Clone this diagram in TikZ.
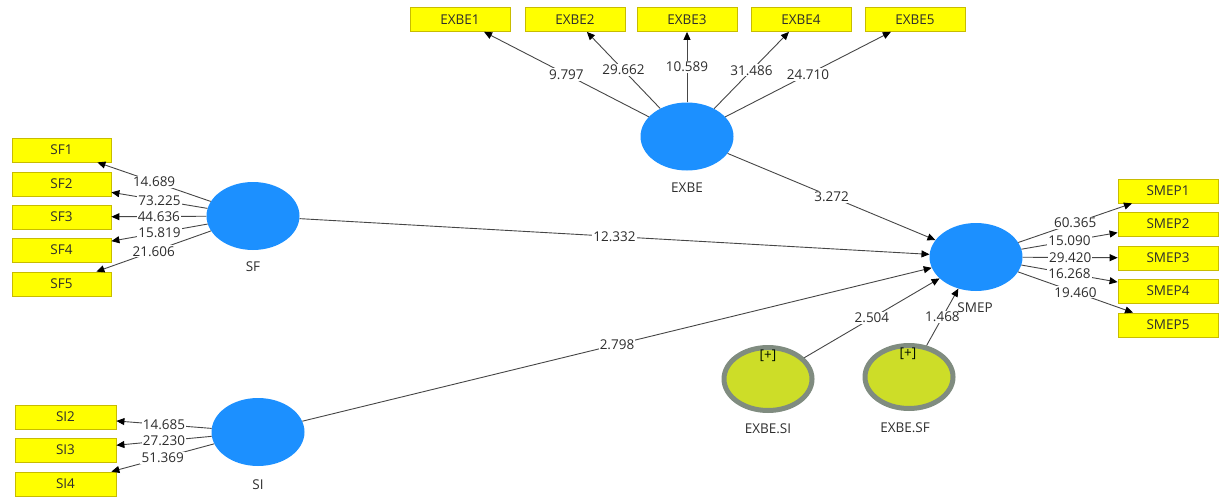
\documentclass[tikz,border=0pt]{standalone}
\usepackage{fontspec}
\setmainfont{Open Sans}
\usetikzlibrary{shapes.geometric,arrows.meta}
\definecolor{lvblue}{RGB}{28,144,255}
\definecolor{indfill}{RGB}{255,255,0}
\definecolor{indborder}{RGB}{200,188,0}
\definecolor{modfill}{RGB}{205,221,40}
\definecolor{modring}{RGB}{128,140,128}
\definecolor{lncol}{RGB}{70,70,70}
\definecolor{txtcol}{RGB}{45,45,45}
\begin{document}
\begin{tikzpicture}[x=1pt,y=-1pt,
  font=\fontsize{13.5}{15}\selectfont,
  lv/.style={ellipse, fill=lvblue, minimum width=93pt, minimum height=68pt, inner sep=0pt},
  indbox/.style={rectangle, fill=indfill, draw=indborder, line width=0.8pt, minimum width=100pt, minimum height=24pt, inner sep=0pt, text=txtcol},
  modnode/.style={ellipse, fill=modfill, draw=modring, line width=5pt, minimum width=88pt, minimum height=63pt, inner sep=0pt},
  lnk/.style={draw=lncol, line width=0.9pt, -{Triangle[length=8pt,width=7pt,color=black]}},
  wt/.style={fill=white, inner sep=1.2pt, text=txtcol},
  nm/.style={text=txtcol, inner sep=1pt},
  plus/.style={text=black!85!green!40!black, inner sep=0pt}]
\useasboundingbox (0,0) rectangle (1222,500);

% latent variables
\node[lv] (EXBE) at (687,136.5) {};
\node[lv] (SF) at (253,216) {};
\node[lv] (SI) at (258,432) {};
\node[lv] (SMEP) at (976,257) {};
\node[modnode] (EXBESI) at (768,379) {};
\node[modnode] (EXBESF) at (909,377) {};

% indicators
\foreach \i/\x in {1/460,2/575,3/687,4/801,5/915}
  \node[indbox] (EXBE\i) at (\x,19.5) {EXBE\i};
\foreach \i/\y in {1/150,2/184,3/217,4/250,5/284}
  \node[indbox, minimum width=99pt] (SF\i) at (61.5,\y) {SF\i};
\foreach \i/\y in {2/417,3/450,4/484}
  \node[indbox, minimum width=101pt] (SI\i) at (65.5,\y) {SI\i};
\foreach \i/\y in {1/191,2/224,3/258,4/291,5/325}
  \node[indbox] (SMEP\i) at (1168,\y) {SMEP\i};

% outer loadings
\foreach \i/\v in {1/9.797,2/29.662,3/10.589,4/31.486,5/24.710}
  \draw[lnk] (EXBE) -- node[wt] {\v} (EXBE\i);
\foreach \i/\v in {1/14.689,2/73.225,3/44.636,4/15.819,5/21.606}
  \draw[lnk] (SF) -- node[wt] {\v} (SF\i);
\foreach \i/\v in {2/14.685,3/27.230,4/51.369}
  \draw[lnk] (SI) -- node[wt] {\v} (SI\i);
\foreach \i/\v in {1/60.365,2/15.090,3/29.420,4/16.268,5/19.460}
  \draw[lnk] (SMEP) -- node[wt] {\v} (SMEP\i);

% structural paths
\draw[lnk] (EXBE) -- node[wt] {3.272} (SMEP);
\draw[lnk] (SF) -- node[wt] {12.332} (SMEP);
\draw[lnk] (SI) -- node[wt] {2.798} (SMEP);
\draw[lnk] (EXBESI) -- node[wt] {2.504} (SMEP);
\draw[lnk] (EXBESF) -- node[wt] {1.468} (SMEP);

% names
\node[nm] (EXBEn) at (687,188) {EXBE};
\node[nm] (SFn) at (253,267) {SF};
\node[nm] (SIn) at (258,485) {SI};
\node[nm] (SMEPn) at (975,308) {SMEP};
\node[nm] (EXBESIn) at (768,429) {EXBE.SI};
\node[nm] (EXBESFn) at (905,428) {EXBE.SF};
\node[plus] (p1) at (768,356) {[+]};
\node[plus] (p2) at (908,354) {[+]};
\end{tikzpicture}
\end{document}
